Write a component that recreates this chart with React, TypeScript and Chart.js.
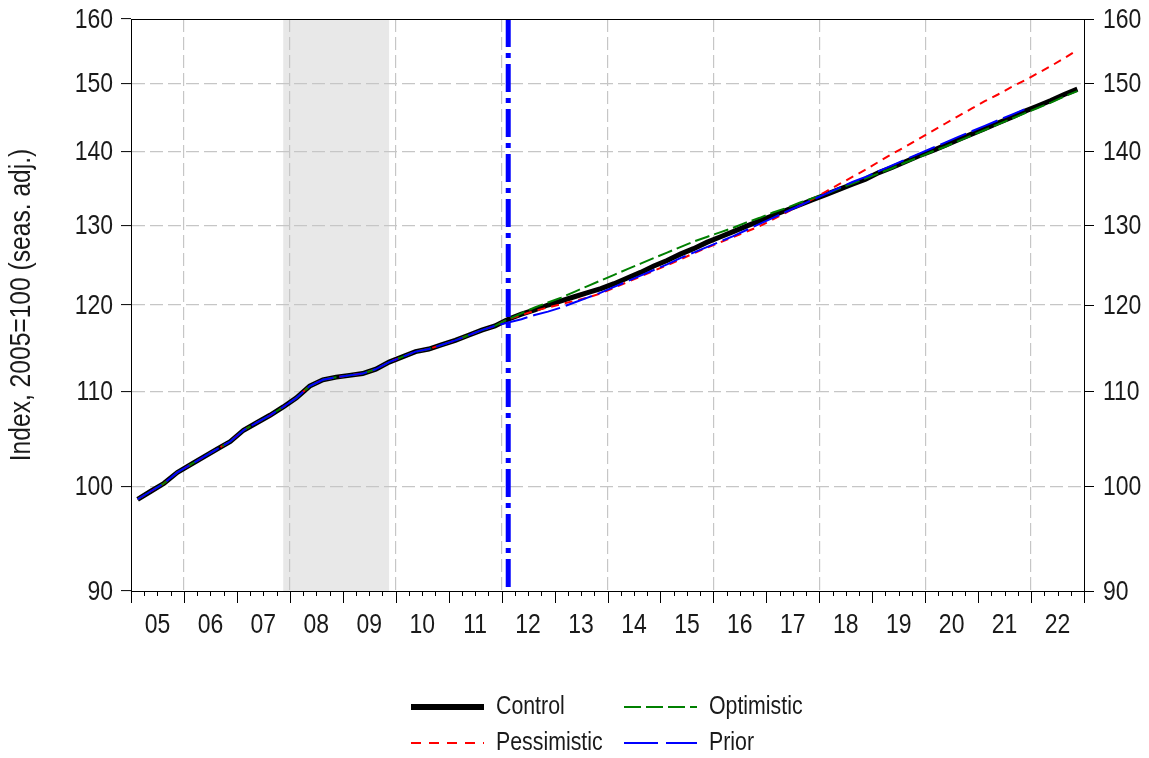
import React, { useEffect, useRef } from 'react';
import { Chart, registerables } from 'chart.js';

Chart.register(...registerables);

// Liberation Sans squeezed horizontally ≈ Arial Narrow
const FONT = "'Liberation Sans', Arial, sans-serif";
const NARROW = 0.82;
const TEXT = '#1a1a1a';
const GRID = '#c6c6c6';

// ---- categories (quarters 2005Q1 .. 2022Q4) ----
const firstYear = 2005;
const lastYear = 2022;
const quarters: string[] = [];
for (let y = firstYear; y <= lastYear; y++) {
  for (let q = 1; q <= 4; q++) quarters.push(`${y}Q${q}`);
}

// ---- tick labels ----
const yearLabels = ['05', '06', '07', '08', '09', '10', '11', '12', '13', '14', '15', '16', '17', '18', '19', '20', '21', '22'];
const yTicks = [90, 100, 110, 120, 130, 140, 150, 160];
const gridYears = [2006, 2008, 2010, 2012, 2014, 2016, 2018, 2020, 2022];
const yTitle = 'Index, 2005=100 (seas. adj.)';

// ---- events ----
const shadedStart = 2007.875;
const shadedEnd = 2009.875;
const forecastStart = '2012Q1';

// ---- series values ----
const history = [
  98.7, 99.5, 100.3, 101.4,
  102.2, 103.0, 103.8, 104.6,
  105.8, 106.6, 107.4, 108.3,
  109.3, 110.6, 111.3, 111.6,
  111.8, 112.0, 112.5, 113.3,
  113.9, 114.5, 114.8, 115.3,
  115.8, 116.4, 117.0, 117.5,
];

const controlForecast = [
  118.3, 118.9, 119.4, 120.0, 120.5, 121.0, 121.5, 122.0,
  122.6, 123.3, 124.0, 124.8,
  125.5, 126.3, 127.0, 127.8,
  128.5, 129.2, 129.9, 130.6,
  131.3, 132.0, 132.7, 133.4,
  134.1, 134.8, 135.5, 136.2,
  137.1, 137.8, 138.6, 139.4,
  140.1, 140.9, 141.7, 142.5,
  143.3, 144.1, 144.9, 145.8,
  146.6, 147.4, 148.3, 149.1,
];

const pessimisticForecast = [
  118.3, 118.8, 119.3, 119.7, 120.1, 120.5, 120.9, 121.4,
  122.1, 122.8, 123.5, 124.2,
  124.9, 125.6, 126.4, 127.1,
  127.8, 128.5, 129.2, 129.9,
  130.8, 131.7, 132.6, 133.5,
  134.5, 135.5, 136.5, 137.5,
  138.6, 139.7, 140.7, 141.8,
  142.9, 144.0, 145.1, 146.2,
  147.3, 148.3, 149.4, 150.4,
  151.5, 152.6, 153.8, 155.1,
];

const optimisticForecast = [
  118.3, 119.0, 119.7, 120.3, 120.9, 121.6, 122.3, 123.0,
  123.7, 124.4, 125.1, 125.8,
  126.5, 127.2, 127.9, 128.5,
  129.1, 129.7, 130.4, 131.0,
  131.7, 132.3, 133.0, 133.6,
  134.2, 134.9, 135.6, 136.3,
  137.0, 137.7, 138.5, 139.2,
  140.0, 140.7, 141.5, 142.3,
  143.1, 143.9, 144.7, 145.5,
  146.3, 147.1, 148.0, 148.8,
];

const priorForecast = [
  117.9, 118.3, 118.8, 119.2, 119.7, 120.3, 120.9, 121.5,
  122.2, 122.9, 123.6, 124.3,
  125.0, 125.8, 126.5, 127.2,
  127.9, 128.6, 129.4, 130.2,
  131.0, 131.8, 132.6, 133.4,
  134.2, 135.0, 135.8, 136.5,
  137.3, 138.1, 138.9, 139.7,
  140.5, 141.3, 142.1, 142.9,
  143.7, 144.5, 145.3, 146.1,
];

// ---- helpers ----
const quarterMid = (s: string) => Number(s.slice(0, 4)) + (Number(s.slice(5)) - 0.5) / 4;
const quarterStart = (s: string) => Number(s.slice(0, 4)) + (Number(s.slice(5)) - 1) / 4;
const boundaries = [...quarters.map(quarterStart), lastYear + 1];
const toPoints = (vals: number[]) => vals.map((v, i) => ({ x: quarterMid(quarters[i]), y: v }));

const series = [
  { label: 'Control', values: [...history, ...controlForecast], color: '#000000', width: 5, dash: [] as number[], legendDash: [] as number[], order: 3 },
  { label: 'Pessimistic', values: [...history, ...pessimisticForecast], color: '#ff0000', width: 2, dash: [8, 6], legendDash: [10, 8], order: 2 },
  { label: 'Optimistic', values: [...history, ...optimisticForecast], color: '#008000', width: 2, dash: [15, 5], legendDash: [17, 5], order: 1 },
  { label: 'Prior', values: [...history, ...priorForecast], color: '#0000ff', width: 2, dash: [28, 6], legendDash: [34, 8], order: 0 },
];

const legendLayout = [
  { label: 'Control', col: 0, row: 0 },
  { label: 'Optimistic', col: 1, row: 0 },
  { label: 'Pessimistic', col: 0, row: 1 },
  { label: 'Prior', col: 1, row: 1 },
];

function narrowText(ctx: CanvasRenderingContext2D, text: string, x: number, y: number, size: number, align: CanvasTextAlign, rotate = 0) {
  ctx.save();
  ctx.translate(x, y);
  if (rotate) ctx.rotate(rotate);
  ctx.scale(NARROW, 1);
  ctx.font = `${size}px ${FONT}`;
  ctx.fillStyle = TEXT;
  ctx.textAlign = align;
  ctx.textBaseline = 'middle';
  ctx.fillText(text, 0, 0);
  ctx.restore();
}

const backgroundPlugin = {
  id: 'bgShade',
  beforeDraw(chart: any) {
    const { ctx, chartArea } = chart;
    const x = chart.scales.x;
    const x1 = x.getPixelForValue(shadedStart);
    const x2 = x.getPixelForValue(shadedEnd);
    ctx.save();
    ctx.fillStyle = '#e8e8e8';
    ctx.fillRect(x1, chartArea.top, x2 - x1, chartArea.bottom - chartArea.top);
    ctx.restore();
  },
};

const overlayPlugin = {
  id: 'overlay',
  afterDatasetsDraw(chart: any) {
    const { ctx, chartArea } = chart;
    const x = chart.scales.x;
    const fx = x.getPixelForValue(quarterMid(forecastStart));
    ctx.save();
    ctx.strokeStyle = '#0000ff';
    ctx.lineWidth = 5;
    ctx.setLineDash([28, 6, 5, 6]);
    ctx.beginPath();
    ctx.moveTo(fx, chartArea.top);
    ctx.lineTo(fx, chartArea.bottom);
    ctx.stroke();
    ctx.restore();
  },
  afterDraw(chart: any) {
    const { ctx, chartArea } = chart;
    const x = chart.scales.x;
    const y = chart.scales.y;
    ctx.save();
    // frame
    ctx.strokeStyle = '#000';
    ctx.lineWidth = 1;
    ctx.strokeRect(chartArea.left + 0.5, chartArea.top + 0.5, chartArea.right - chartArea.left, chartArea.bottom - chartArea.top);
    // x tick marks
    ctx.beginPath();
    boundaries.forEach((b) => {
      const px = Math.round(x.getPixelForValue(b)) + 0.5;
      const len = Number.isInteger(b) ? 12 : 5;
      ctx.moveTo(px, chartArea.bottom);
      ctx.lineTo(px, chartArea.bottom + len);
    });
    ctx.stroke();
    // x labels (centred on each year)
    yearLabels.forEach((lab, i) => {
      const px = x.getPixelForValue(firstYear + i + 0.5);
      narrowText(ctx, lab, px, chartArea.bottom + 34, 28, 'center');
    });
    // y labels, both sides
    yTicks.forEach((v) => {
      const py = y.getPixelForValue(v) + 1;
      narrowText(ctx, String(v), chartArea.left - 18, py, 28, 'right');
      narrowText(ctx, String(v), chartArea.right + 19, py, 28, 'left');
    });
    // y title
    narrowText(ctx, yTitle, 22, (chartArea.top + chartArea.bottom) / 2, 30, 'center', -Math.PI / 2);
    // legend
    const colX = [411, 624];
    const rowY = [707, 743];
    const sampleLen = 73;
    legendLayout.forEach((it) => {
      const s = series.find((d) => d.label === it.label)!;
      const x0 = colX[it.col];
      const y0 = rowY[it.row];
      ctx.save();
      ctx.strokeStyle = s.color;
      ctx.lineWidth = s.label === 'Control' ? 6 : 2;
      ctx.setLineDash(s.legendDash);
      ctx.beginPath();
      ctx.moveTo(x0, y0);
      ctx.lineTo(x0 + sampleLen, y0);
      ctx.stroke();
      ctx.restore();
      narrowText(ctx, s.label, x0 + sampleLen + 12, y0, 26, 'left');
    });
    ctx.restore();
  },
};

export default function App() {
  const ref = useRef<HTMLCanvasElement>(null);
  useEffect(() => {
    if (!ref.current) return;
    const chart = new Chart(ref.current, {
      type: 'line',
      data: {
        datasets: series.map((s) => ({
          label: s.label,
          data: toPoints(s.values),
          borderColor: s.color,
          backgroundColor: s.color,
          borderWidth: s.width,
          borderDash: s.dash,
          pointRadius: 0,
          tension: 0,
          fill: false,
          order: s.order,
          yAxisID: 'y',
        })),
      },
      options: {
        responsive: false,
        animation: false,
        devicePixelRatio: 1,
        layout: { padding: { top: 19, left: 0, right: 0, bottom: 0 } },
        plugins: { legend: { display: false }, tooltip: { enabled: false } },
        scales: {
          x: {
            type: 'linear',
            min: firstYear,
            max: lastYear + 1,
            afterBuildTicks: (s: any) => {
              s.ticks = boundaries.map((v) => ({ value: v }));
            },
            afterFit: (s: any) => {
              s.height = 758 - 591;
            },
            grid: {
              drawTicks: false,
              lineWidth: 1.2,
              color: (c: any) => (c.tick && gridYears.includes(c.tick.value) ? GRID : 'rgba(0,0,0,0)'),
            },
            border: { display: true, color: '#000', width: 1, dash: [13, 5] },
            ticks: { display: false, autoSkip: false, maxRotation: 0 },
          },
          y: {
            type: 'logarithmic',
            position: 'left',
            min: 90,
            max: 160,
            afterBuildTicks: (s: any) => {
              s.ticks = yTicks.map((v) => ({ value: v }));
            },
            afterFit: (s: any) => {
              s.width = 131;
            },
            grid: {
              lineWidth: 1.2,
              color: (c: any) => (c.tick && (c.tick.value === 90 || c.tick.value === 160) ? 'rgba(0,0,0,0)' : GRID),
              tickColor: '#000',
              tickLength: 10,
              tickWidth: 1,
            },
            border: { display: true, color: '#000', width: 1, dash: [13, 5] },
            ticks: { display: false },
          },
          y2: {
            type: 'logarithmic',
            position: 'right',
            min: 90,
            max: 160,
            afterBuildTicks: (s: any) => {
              s.ticks = yTicks.map((v) => ({ value: v }));
            },
            afterFit: (s: any) => {
              s.width = 1149 - 1084;
            },
            grid: {
              drawOnChartArea: false,
              tickColor: '#000',
              tickLength: 10,
              tickWidth: 1,
            },
            border: { display: true, color: '#000', width: 1 },
            ticks: { display: false },
          },
        },
      },
      plugins: [backgroundPlugin, overlayPlugin],
    } as any);
    return () => chart.destroy();
  }, []);
  return (
    <div style={{ position: 'absolute', left: 0, top: 0, width: 1149, height: 758, background: '#fff' }}>
      <canvas ref={ref} width={1149} height={758} style={{ display: 'block', width: 1149, height: 758 }} />
    </div>
  );
}
